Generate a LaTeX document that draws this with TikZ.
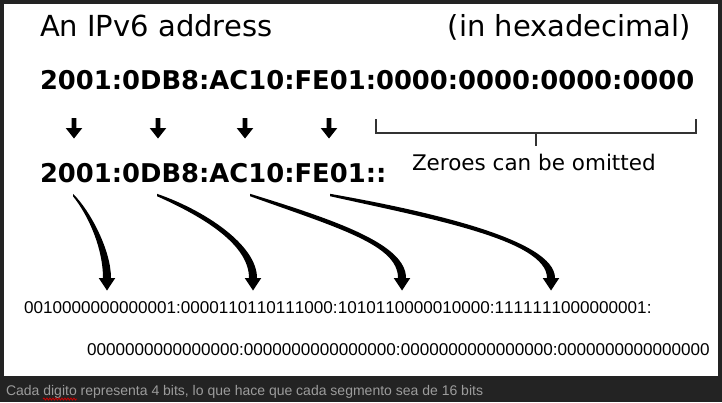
\documentclass[tikz,border=0pt]{standalone}
\usepackage{fontspec}
\setmainfont{DejaVu Sans}
\newfontfamily\binfont[Kerning=Off]{Liberation Sans}
\newfontfamily\capfont{Liberation Sans}
\usetikzlibrary{decorations.pathmorphing}
\definecolor{frame}{HTML}{232323}
\definecolor{captiongrey}{HTML}{9C9C9C}
\definecolor{bracketgrey}{HTML}{333333}
\newcommand\taperarrow[8]{%
  \fill[black] (#1,#2-1.2) .. controls (#3,#4-3.6) and (#5+4,#6) .. (#7+4,#8)
    -- (#7+8.3,#8) -- (#7,#8+12.5) -- (#7-8.3,#8) -- (#7-4,#8)
    .. controls (#5-4,#6) and (#3,#4+3.6) .. (#1,#2+1.2) -- cycle;}
\tikzset{
  txt/.style={inner sep=0pt, outer sep=0pt, anchor=base west},
  title/.style={txt, font=\fontsize{29}{34}\selectfont},
  hexrow/.style={txt, font=\bfseries\fontsize{25.8}{30}\selectfont},
  note/.style={txt, font=\fontsize{21.5}{26}\selectfont},
  binrow/.style={txt, font=\binfont\fontsize{17.1}{20}\selectfont},
  caption/.style={txt, font=\capfont\fontsize{14}{17}\selectfont, text=captiongrey},
  bracket/.style={draw=bracketgrey, line width=1.4pt},
  downarr/.pic={\fill[black] (-2.3,0) -- (2.3,0) -- (2.3,10) -- (8.3,10) -- (0,20.5) -- (-8.3,10) -- (-2.3,10) -- cycle;}
}
\begin{document}
\begin{tikzpicture}[x=1pt,y=-1pt]
\fill[frame] (0,0) rectangle (722,402);
\fill[white] (4,4) rectangle (718,376);
\useasboundingbox (0,0) rectangle (722,402);

\node[title] (title) at (40,36) {An IPv6 address};
\node[title, anchor=base east] (hex) at (691,36) {(in hexadecimal)};

\node[hexrow] (full) at (40,89) {2001:0DB8:AC10:FE01:0000:0000:0000:0000};
\node[hexrow] (short) at (40,182) {2001:0DB8:AC10:FE01::};

\pic at (74,118) {downarr};
\pic at (158,118) {downarr};
\pic at (245,118) {downarr};
\pic at (329,118) {downarr};

\draw[bracket] (376,119) -- (376,133) -- (696,133) -- (696,119);
\draw[bracket] (536,133) -- (536,146);
\node[note] (zeroes) at (412,170) {Zeroes can be omitted};

\taperarrow{73}{195}{90}{214}{107}{250}{107}{278}
\taperarrow{157}{195}{205}{214}{253}{245}{253}{278}
\taperarrow{250}{195}{340}{225}{402}{245}{402}{278}
\taperarrow{330}{195}{430}{215}{551}{240}{551}{278}

\node[binrow] (bin1) at (24,313) {0010000000000001:0000110110111000:1010110000010000:1111111000000001:};
\node[binrow] (bin2) at (87,355) {0000000000000000:0000000000000000:0000000000000000:0000000000000000};

\node[caption] (cap) at (6,395) {Cada digito representa 4 bits, lo que hace que cada segmento sea de 16 bits};
\draw[red!80!black, line width=0.8pt, decorate, decoration={snake, amplitude=1pt, segment length=3pt}] (43,399) -- (77,399);
\end{tikzpicture}
\end{document}
